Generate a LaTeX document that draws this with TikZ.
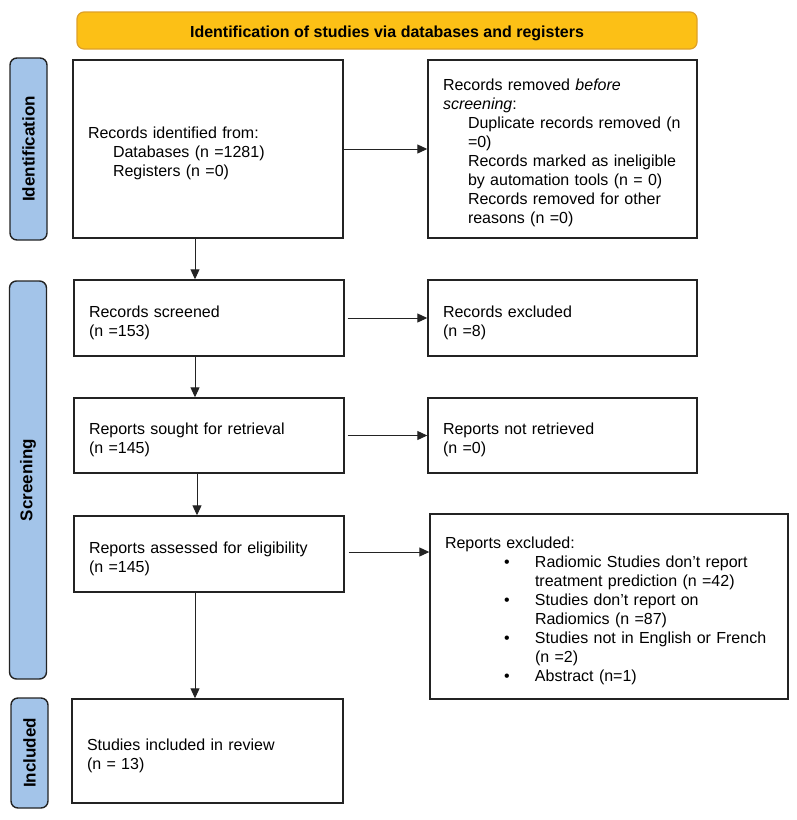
\documentclass[tikz,border=0pt]{standalone}
\usepackage{fontspec}
\setmainfont{Liberation Sans}
\usetikzlibrary{arrows.meta}
\definecolor{hdrfill}{RGB}{252,192,22}
\definecolor{hdrdraw}{RGB}{222,160,40}
\definecolor{sidefill}{RGB}{163,196,233}
\definecolor{linecol}{RGB}{35,35,35}
\tikzset{
  box/.style={draw=linecol, line width=1.4pt, rectangle, inner xsep=15pt, inner ysep=0pt, align=left,
    font=\fontsize{16}{19}\selectfont, execute at begin node={\rule{0pt}{20.3pt}}},
  side/.style={draw=linecol, line width=1.4pt, fill=sidefill, rounded corners=7pt, rotate=90,
    minimum height=37pt, inner sep=0pt, font=\fontsize{17}{20}\selectfont\bfseries},
  hdr/.style={draw=hdrdraw, line width=1.2pt, fill=hdrfill, rounded corners=7pt,
    minimum width=620pt, minimum height=37pt, inner sep=0pt, font=\fontsize{16}{19}\selectfont\bfseries},
  arr/.style={draw=linecol, line width=1pt, -{Triangle[length=10pt,width=9pt]}},
}
\begin{document}
\begin{tikzpicture}[x=1pt,y=-1pt]
\useasboundingbox (0,0) rectangle (797,820);
% header
\node[hdr] (hdr) at (387,30.5) {\raisebox{-3pt}[11pt][3pt]{Identification of studies via databases and registers}};
% side labels
\node[side, minimum width=182pt] (sid) at (28.5,149) {Identification};
\node[side, minimum width=398pt] (ssc) at (28,480) {Screening};
\node[side, minimum width=110pt] (sin) at (29.5,753) {Included};
% boxes
\node[box, minimum height=178pt, text width=240pt] (b1) at (208,149)
  {Records identified from:\\
   \hspace*{25pt}Databases (n =1281)\\
   \hspace*{25pt}Registers (n =0)};
\node[box, minimum height=178pt, text width=239pt] (b2) at (562.5,149)
  {Records removed \textit{before}\\
   \textit{screening}:\\
   \hspace*{25pt}Duplicate records removed (n\\
   \hspace*{25pt}=0)\\
   \hspace*{25pt}Records marked as ineligible\\
   \hspace*{25pt}by automation tools (n = 0)\\
   \hspace*{25pt}Records removed for other\\
   \hspace*{25pt}reasons (n =0)};
\node[box, minimum height=76pt, text width=240pt] (b3) at (209,318)
  {Records screened\\(n =153)};
\node[box, minimum height=76pt, text width=239pt] (b4) at (562.5,318)
  {Records excluded\\(n =8)};
\node[box, minimum height=75pt, text width=240pt] (b5) at (209,435.5)
  {Reports sought for retrieval\\(n =145)};
\node[box, minimum height=75pt, text width=239pt] (b6) at (562.5,435.5)
  {Reports not retrieved\\(n =0)};
\node[box, minimum height=76pt, text width=240pt] (b7) at (209,554)
  {Reports assessed for eligibility\\(n =145)};
\node[box, minimum height=185pt, text width=328pt] (b8) at (609,606.5)
  {Reports excluded:\\
   \makebox[90pt][l]{\hspace*{59pt}•}Radiomic Studies don’t report\\
   \hspace*{90pt}treatment prediction (n =42)\\
   \makebox[90pt][l]{\hspace*{59pt}•}Studies don’t report on\\
   \hspace*{90pt}Radiomics (n =87)\\
   \makebox[90pt][l]{\hspace*{59pt}•}Studies not in English or French\\
   \hspace*{90pt}(n =2)\\
   \makebox[90pt][l]{\hspace*{59pt}•}Abstract (n=1)};
\node[box, minimum height=104pt, text width=241pt] (b9) at (207.5,751)
  {Studies included in review\\(n = 13)};
% connectors
\coordinate (ax) at (195,0);
\coordinate (ax2) at (197,0);
\draw[arr] (b1.south -| ax) -- (b3.north -| ax);
\draw[arr] (b3.south -| ax) -- (b5.north -| ax);
\draw[arr] (b5.south -| ax2) -- (b7.north -| ax2);
\draw[arr] (b7.south -| ax) -- (b9.north -| ax);
\draw[arr] (b1.east) -- (b1.east -| b2.west);
\draw[arr, shorten <=3pt] (b3.east) -- (b4.west);
\draw[arr, shorten <=3pt] (b5.east) -- (b6.west);
\draw[arr, shorten <=4pt] ([yshift=2pt]b7.east) -- ([yshift=2pt]b7.east -| b8.west);
\end{tikzpicture}
\end{document}
